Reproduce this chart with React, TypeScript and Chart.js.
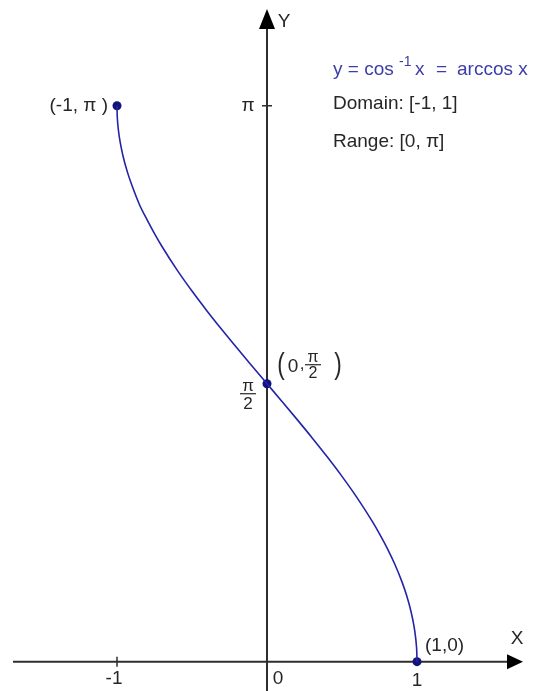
import React, { useEffect, useRef } from "react";
import { Chart, registerables } from "chart.js";

Chart.register(...registerables);

// Curve samples of y = arccos x
const curveX = [-1, -0.999, -0.995, -0.99, -0.98, -0.96, -0.93, -0.9, -0.85, -0.8, -0.75, -0.7, -0.6, -0.5, -0.4, -0.3, -0.2, -0.1, 0, 0.1, 0.2, 0.3, 0.4, 0.5, 0.6, 0.7, 0.75, 0.8, 0.85, 0.9, 0.93, 0.96, 0.98, 0.99, 0.995, 0.999, 1];
const curveY = [3.1416, 3.0969, 3.0416, 3.0001, 2.9413, 2.8578, 2.7652, 2.6906, 2.5824, 2.4981, 2.4189, 2.3462, 2.2143, 2.0944, 1.9823, 1.8755, 1.7722, 1.671, 1.5708, 1.4706, 1.3694, 1.2661, 1.1593, 1.0472, 0.9273, 0.7954, 0.7227, 0.6435, 0.5548, 0.451, 0.3764, 0.2838, 0.2003, 0.1415, 0.1, 0.0447, 0];

// Highlighted points
const markerX = [-1, 0, 1];
const markerY = [3.1416, 1.5708, 0];

// Tick labels
const xTickValues = [-1, 0, 1];
const xTickLabels = ["-1", "0", "1"];
const yTickPi = 3.1416;
const yTickHalfPi = 1.5708;

const titleText = "y = cos";
const titleSup = "-1";
const domainText = "Domain: [-1, 1]";
const rangeText = "Range: [0, \u03C0]";

const FONT = '"Liberation Sans", Arial, sans-serif';
const AXIS = "#2e2e2e";
const TEXT = "#262626";
const BLUE = "#3d3da8";

function txt(ctx: CanvasRenderingContext2D, s: string, x: number, y: number, size: number, align: CanvasTextAlign = "center", color = TEXT) {
  ctx.font = `${size}px ${FONT}`;
  ctx.fillStyle = color;
  ctx.textAlign = align;
  ctx.textBaseline = "middle";
  ctx.fillText(s, x, y);
}

const axesPlugin = {
  id: "mathAxes",
  beforeDatasetsDraw(chart: any) {
    const ctx: CanvasRenderingContext2D = chart.ctx;
    const xs = chart.scales.x;
    const ys = chart.scales.y;
    const x0 = xs.getPixelForValue(0);
    const y0 = ys.getPixelForValue(0);
    const W = chart.width;
    const H = chart.height;
    ctx.save();
    ctx.strokeStyle = AXIS;
    ctx.fillStyle = "#000";
    ctx.lineWidth = 2;
    // x axis
    ctx.beginPath();
    ctx.moveTo(13, y0);
    ctx.lineTo(W - 25, y0);
    ctx.stroke();
    ctx.beginPath();
    ctx.moveTo(W - 15, y0);
    ctx.lineTo(W - 31, y0 - 7.5);
    ctx.lineTo(W - 31, y0 + 7.5);
    ctx.closePath();
    ctx.fill();
    // y axis
    ctx.beginPath();
    ctx.moveTo(x0, H);
    ctx.lineTo(x0, 22);
    ctx.stroke();
    ctx.beginPath();
    ctx.moveTo(x0, 9);
    ctx.lineTo(x0 - 8, 29);
    ctx.lineTo(x0 + 8, 29);
    ctx.closePath();
    ctx.fill();
    // ticks
    ctx.lineWidth = 1.5;
    const xm1 = xs.getPixelForValue(xTickValues[0]);
    ctx.beginPath();
    ctx.moveTo(xm1, y0 - 5);
    ctx.lineTo(xm1, y0 + 5);
    const yPi = ys.getPixelForValue(yTickPi);
    ctx.moveTo(x0 - 5, yPi);
    ctx.lineTo(x0 + 5, yPi);
    ctx.stroke();

    // x tick labels
    txt(ctx, xTickLabels[0], xm1 - 3, y0 + 17, 19);
    txt(ctx, xTickLabels[1], x0 + 11, y0 + 17, 19);
    txt(ctx, xTickLabels[2], xs.getPixelForValue(xTickValues[2]), y0 + 19, 19);
    // axis names
    txt(ctx, "X", W - 21, y0 - 23, 19);
    txt(ctx, "Y", x0 + 17, 22, 19);
    // y tick labels
    txt(ctx, "\u03C0", x0 - 19, yPi, 19);
    const yHalf = ys.getPixelForValue(yTickHalfPi);
    txt(ctx, "\u03C0", x0 - 19, yHalf + 3, 17);
    ctx.strokeStyle = TEXT;
    ctx.lineWidth = 1.2;
    ctx.beginPath();
    ctx.moveTo(x0 - 27, yHalf + 10);
    ctx.lineTo(x0 - 11, yHalf + 10);
    ctx.stroke();
    txt(ctx, "2", x0 - 19, yHalf + 21, 17);

    // point labels
    const xp1 = xs.getPixelForValue(markerX[2]);
    txt(ctx, "(-1, \u03C0 )", xs.getPixelForValue(markerX[0]) - 9, ys.getPixelForValue(markerY[0]), 19, "right");
    txt(ctx, "(1,0)", xp1 + 8, y0 - 16, 19, "left");
    // (0, pi/2)
    const py = ys.getPixelForValue(markerY[1]);
    ctx.save();
    ctx.translate(x0 + 14, py - 18);
    ctx.scale(0.75, 1);
    txt(ctx, "(", 0, 0, 30);
    ctx.restore();
    ctx.save();
    ctx.translate(x0 + 71, py - 18);
    ctx.scale(0.75, 1);
    txt(ctx, ")", 0, 0, 30);
    ctx.restore();
    txt(ctx, "0", x0 + 26, py - 17, 19);
    txt(ctx, ",", x0 + 35, py - 19, 17);
    txt(ctx, "\u03C0", x0 + 46, py - 26, 16);
    ctx.beginPath();
    ctx.moveTo(x0 + 38, py - 19);
    ctx.lineTo(x0 + 54, py - 19);
    ctx.stroke();
    txt(ctx, "2", x0 + 46, py - 10, 16);

    // info text
    txt(ctx, titleText, 333, 70, 19, "left", BLUE);
    txt(ctx, titleSup, 399, 62, 14, "left", BLUE);
    txt(ctx, "x", 415, 70, 19, "left", BLUE);
    txt(ctx, "=", 436, 70, 19, "left", BLUE);
    txt(ctx, "arccos x", 457, 70, 19, "left", BLUE);
    txt(ctx, domainText, 333, 104, 19, "left");
    txt(ctx, rangeText, 333, 142, 19, "left");
    ctx.restore();
  },
};

export default function App() {
  const ref = useRef<HTMLCanvasElement | null>(null);
  useEffect(() => {
    if (!ref.current) return;
    const chart = new Chart(ref.current, {
      type: "scatter",
      data: {
        datasets: [
          {
            data: curveX.map((x, i) => ({ x, y: curveY[i] })),
            showLine: true,
            borderColor: "#2424a8",
            borderWidth: 1.6,
            pointRadius: 0,
            cubicInterpolationMode: "monotone",
          } as any,
          {
            data: markerX.map((x, i) => ({ x, y: markerY[i] })),
            showLine: false,
            pointRadius: 4.5,
            pointBackgroundColor: "#12127a",
            pointBorderColor: "#12127a",
            pointBorderWidth: 0,
          } as any,
        ],
      },
      options: {
        animation: false,
        responsive: false,
        devicePixelRatio: 1,
        layout: { padding: { left: 12, right: 16, top: 2, bottom: 2 } },
        scales: {
          x: { type: "linear", min: -1.7, max: 1.7, display: false },
          y: { type: "linear", min: -0.1403, max: 3.714, display: false },
        },
        plugins: { legend: { display: false }, tooltip: { enabled: false } },
      },
      plugins: [axesPlugin],
    });
    return () => chart.destroy();
  }, []);
  return (
    <div style={{ position: "absolute", left: 0, top: 0, width: 538, height: 691, background: "#fff" }}>
      <canvas ref={ref} width={538} height={691} />
    </div>
  );
}
